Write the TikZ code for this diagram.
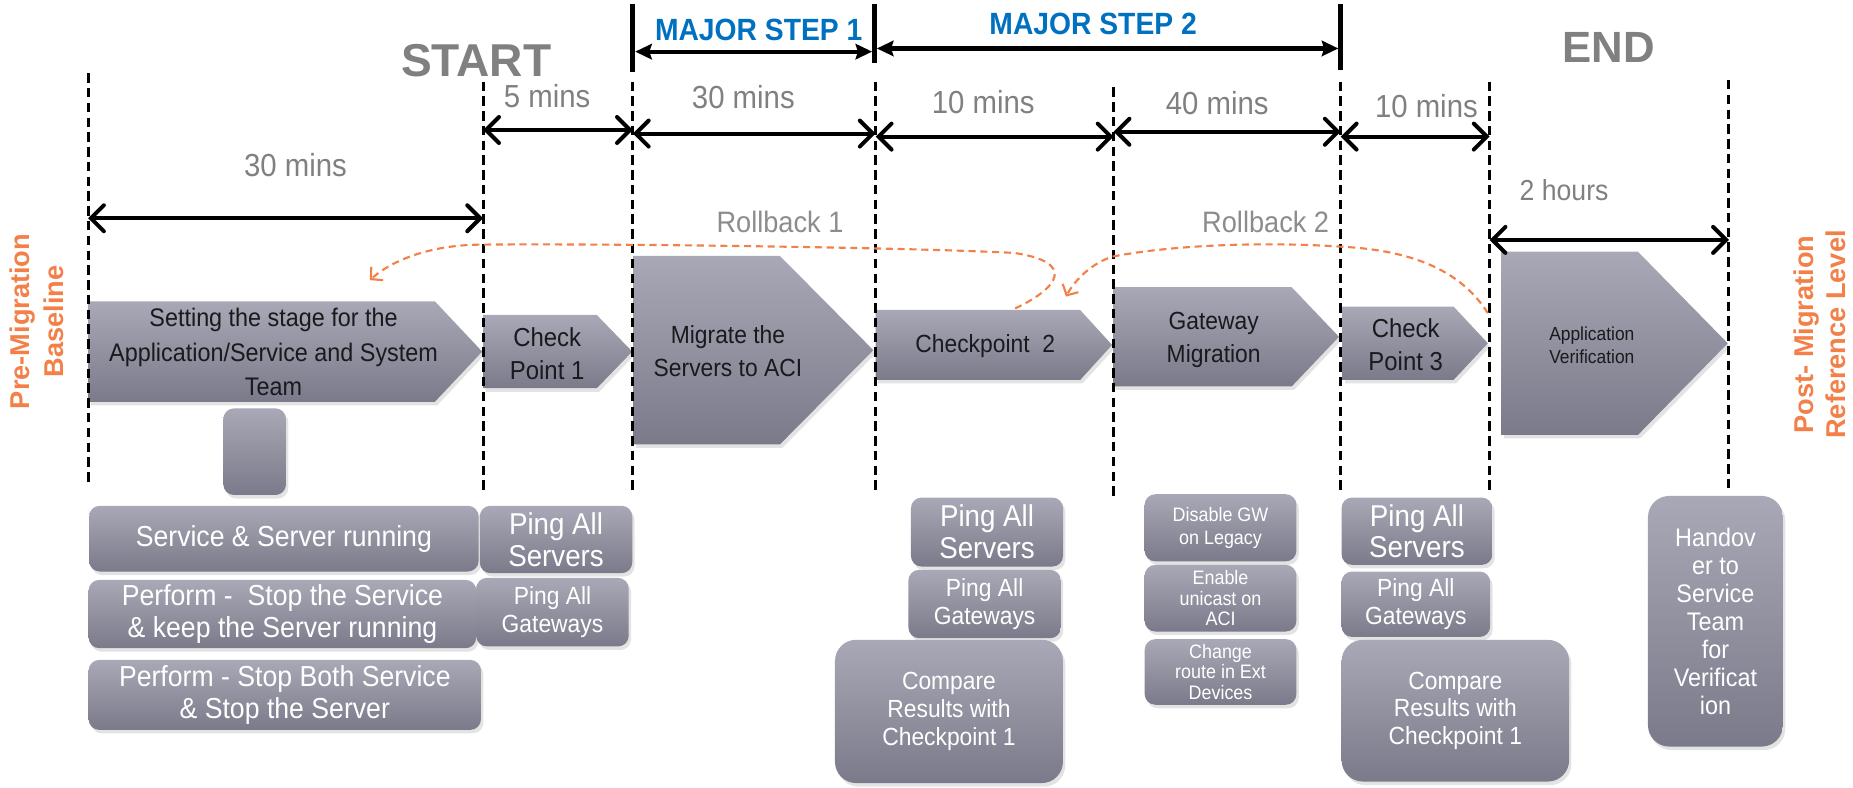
\documentclass[tikz,border=0pt]{standalone}
\usepackage{fontspec}
\setmainfont{Liberation Sans}
\newfontfamily\cnd{Liberation Sans}[FakeStretch=0.92]
\usetikzlibrary{arrows.meta,shadows}
\definecolor{chtop}{RGB}{168,168,182}
\definecolor{chbot}{RGB}{122,122,138}
\definecolor{chtext}{RGB}{25,25,30}
\definecolor{orng}{RGB}{242,128,72}
\definecolor{stepblue}{RGB}{0,112,192}
\definecolor{durgray}{RGB}{128,128,128}
\definecolor{rbgray}{RGB}{140,140,140}
\newcommand\fs[2]{\fontsize{#1}{#2}\selectfont}
\newcommand\chev[5]{\path[chevfill] (#1,#2) -- ({#3-#5},#2) -- (#3,{(#2+#4)/2}) -- ({#3-#5},#4) -- (#1,#4) -- cycle;}
\begin{document}
\begin{tikzpicture}[x=1pt,y=-1pt,
  chevfill/.style={top color=chtop,bottom color=chbot,draw=none,drop shadow={shadow xshift=2pt,shadow yshift=-3pt,opacity=0.22}},
  bx/.style={rectangle,rounded corners=9pt,top color=chtop,bottom color=chbot,draw=none,inner sep=0pt,text=white,align=center,drop shadow={shadow xshift=2pt,shadow yshift=-3pt,opacity=0.22}},
  bigbx/.style={bx,rounded corners=18pt},
  chtxt/.style={inner sep=0pt,align=center,text=chtext},
  vdash/.style={line width=2.6pt,dash pattern=on 8pt off 4.5pt},
  solidbar/.style={line width=4pt},
  dur/.style={line width=3.4pt,line cap=round,{Straight Barb[length=11pt,width=22pt,line cap=round]}-{Straight Barb[length=11pt,width=22pt,line cap=round]}},
  steparr/.style={line width=3.6pt,{Stealth[length=14pt,width=13pt,inset=2pt]}-{Stealth[length=14pt,width=13pt,inset=2pt]}},
  durtxt/.style={inner sep=0pt,text=durgray,font=\cnd\fs{27}{30}},
  rbtxt/.style={inner sep=0pt,text=rbgray,font=\cnd\fs{25}{28}},
  rb/.style={orng,line width=1.8pt,dash pattern=on 6pt off 4pt,-{Straight Barb[length=7pt,width=15pt]}},
  side/.style={inner sep=0pt,rotate=90,align=center,text=orng,font=\bfseries\fs{23}{28.5}}
]
\useasboundingbox (0,0) rectangle (1568,666);

% ---------- chevrons ----------
\chev{75}{255}{408}{340}{40}
\chev{409}{266.5}{535}{328.5}{30}
\chev{536}{216.6}{739}{376}{79}
\chev{741}{262.3}{941}{321.5}{27}
\chev{942}{243}{1133}{327}{40}
\chev{1136}{259.4}{1259}{321.5}{29}
\chev{1270.5}{213}{1462}{368}{76}

\node[chtxt,font=\cnd\fs{21.5}{29}] (t1) at (231.5,298) {Setting the stage for the\\Application/Service and System\\Team};
\node[chtxt,font=\cnd\fs{22}{28}] (t2) at (463,299) {Check\\Point 1};
\node[chtxt,font=\cnd\fs{21}{28}] (t3) at (616,297.5) {Migrate the\\Servers to ACI};
\node[chtxt,font=\cnd\fs{21}{28}] (t4) at (833.7,293) {Checkpoint\ \ 2};
\node[chtxt,font=\cnd\fs{21}{28}] (t5) at (1027,287.6) {Gateway\\Migration};
\node[chtxt,font=\cnd\fs{22}{28}] (t6) at (1189.5,292) {Check\\Point 3};
\node[chtxt,font=\cnd\fs{16}{20}] (t7) at (1347,292) {Application\\Verification};

% ---------- boxes ----------
\node[bx,minimum width=53pt,minimum height=73.3pt] (emp) at (215.5,382.2) {};
\node[bx,minimum width=329.6pt,minimum height=55.6pt,font=\cnd\fs{24.5}{27}] (b1) at (240.2,455.8) {Service \& Server running};
\node[bx,minimum width=328pt,minimum height=57.8pt,font=\cnd\fs{24.5}{27}] (b2) at (239,519.6) {Perform -\ \ Stop the Service\\\& keep the Server running};
\node[bx,minimum width=332pt,minimum height=59.2pt,font=\cnd\fs{24.5}{27}] (b3) at (241,588) {Perform - Stop Both Service\\\& Stop the Server};

\node[bx,minimum width=129pt,minimum height=57pt,font=\cnd\fs{25.5}{27}] (c1a) at (470.5,456.5) {Ping All\\Servers};
\node[bx,minimum width=129pt,minimum height=58pt,font=\cnd\fs{21}{23.7}] (c1b) at (467.5,518) {Ping All\\Gateways};

\node[bx,minimum width=128.7pt,minimum height=58.4pt,font=\cnd\fs{25.5}{27}] (c2a) at (835.2,450.2) {Ping All\\Servers};
\node[bx,minimum width=129pt,minimum height=57.8pt,font=\cnd\fs{21}{23.7}] (c2b) at (833.2,511.1) {Ping All\\Gateways};
\node[bigbx,minimum width=192.9pt,minimum height=121.3pt,font=\cnd\fs{21}{23.5}] (c2c) at (803,602) {Compare\\Results with\\Checkpoint 1};

\node[bx,minimum width=128.4pt,minimum height=56.8pt,font=\cnd\fs{16.5}{19}] (g1) at (1032.8,446.6) {Disable GW\\on Legacy};
\node[bx,minimum width=128.4pt,minimum height=56.4pt,font=\cnd\fs{16.5}{17.6}] (g2) at (1032.8,506.2) {Enable\\unicast on\\ACI};
\node[bx,minimum width=128.4pt,minimum height=55.5pt,font=\cnd\fs{16.5}{17.6}] (g3) at (1032.8,568.6) {Change\\route in Ext\\Devices};

\node[bx,minimum width=127.6pt,minimum height=57pt,font=\cnd\fs{25.5}{27}] (c3a) at (1199,449.5) {Ping All\\Servers};
\node[bx,minimum width=125.8pt,minimum height=55.4pt,font=\cnd\fs{21}{23.7}] (c3b) at (1198.1,511.3) {Ping All\\Gateways};
\node[bigbx,minimum width=192.5pt,minimum height=119.9pt,font=\cnd\fs{21}{23.5}] (c3c) at (1231.5,601.4) {Compare\\Results with\\Checkpoint 1};

\node[bigbx,minimum width=114.2pt,minimum height=212.1pt,font=\cnd\fs{21.5}{23.7}] (hand) at (1451.6,525.7) {Handov\\er to\\Service\\Team\\for\\Verificat\\ion};

% ---------- dashed verticals ----------
\coordinate (d0t) at (74.5,62);    \coordinate (d0b) at (74.5,410.3);
\coordinate (d1t) at (408.8,69);   \coordinate (d1b) at (408.8,418.8);
\coordinate (d2t) at (535.5,69);   \coordinate (d2b) at (535.5,417);
\coordinate (d3t) at (741,69);     \coordinate (d3b) at (741,417.4);
\coordinate (d4t) at (942.3,74);   \coordinate (d4b) at (942.3,421.6);
\coordinate (d5t) at (1134.5,69);  \coordinate (d5b) at (1134.5,417);
\coordinate (d6t) at (1260.5,69);  \coordinate (d6b) at (1260.5,416);
\coordinate (d7t) at (1463,67.7);  \coordinate (d7b) at (1463,414.6);
\foreach \i in {0,...,7} {\draw[vdash] (d\i t) -- (d\i b);}

% ---------- major step bars ----------
\coordinate (m1t) at (535.5,3);  \coordinate (m1b) at (535.5,61);
\coordinate (m2t) at (740,3);    \coordinate (m2b) at (740,53.6);
\coordinate (m3t) at (1134.5,3); \coordinate (m3b) at (1134.5,59);
\draw[solidbar] (m1t) -- (m1b);
\draw[solidbar] (m2t) -- (m2b);
\draw[solidbar] (m3t) -- (m3b);
\coordinate (s1l) at (537.5,43.7); \coordinate (s1r) at (738,43.7);
\coordinate (s2l) at (742,41);     \coordinate (s2r) at (1132.5,41);
\draw[steparr] (s1l) -- (s1r);
\draw[steparr] (s2l) -- (s2r);
\node[inner sep=0pt,text=stepblue,font=\cnd\bfseries\fs{26}{28}] (ms1) at (642,25) {MAJOR STEP 1};
\node[inner sep=0pt,text=stepblue,font=\cnd\bfseries\fs{26}{28}] (ms2) at (925,20) {MAJOR STEP 2};

\node[inner sep=0pt,text=durgray,font=\bfseries\fs{39}{42}] (start) at (403,51) {START};
\node[inner sep=0pt,text=durgray,font=\bfseries\fs{37}{40}] (end) at (1361.5,40) {END};

% ---------- duration arrows ----------
\coordinate (a0l) at (74.5,184.7);  \coordinate (a0r) at (408.8,184.7);
\coordinate (a1l) at (408.8,110);   \coordinate (a1r) at (535.5,110);
\coordinate (a2l) at (535.5,113);   \coordinate (a2r) at (741,113);
\coordinate (a3l) at (741,115.6);   \coordinate (a3r) at (942.3,115.6);
\coordinate (a4l) at (942.3,111.5); \coordinate (a4r) at (1134.5,111.5);
\coordinate (a5l) at (1134.5,115.6);\coordinate (a5r) at (1260.5,115.6);
\coordinate (a6l) at (1260.5,203);  \coordinate (a6r) at (1463,203);
\foreach \i in {0,...,6} {\draw[dur] (a\i l) -- (a\i r);}

\node[durtxt] (l0) at (250,140) {30 mins};
\node[durtxt] (l1) at (463,81) {5 mins};
\node[durtxt] (l2) at (629,82) {30 mins};
\node[durtxt] (l3) at (832,86) {10 mins};
\node[durtxt] (l4) at (1030,87) {40 mins};
\node[durtxt] (l5) at (1207,90) {10 mins};
\node[durtxt,font=\cnd\fs{24.5}{28}] (l6) at (1323.5,160.5) {2 hours};

\node[rbtxt] (rb1) at (660,187.5) {Rollback 1};
\node[rbtxt] (rb2) at (1071,187.5) {Rollback 2};

% ---------- rollback curves ----------
\coordinate (r1s) at (859,261);
\coordinate (r1k) at (858,214);
\coordinate (r1m) at (408,207);
\coordinate (r1e) at (313,237);
\draw[rb] (r1s) .. controls (895,244) and (912,222) .. (r1k)
  .. controls (760,209) and (500,206) .. (r1m)
  .. controls (365,207) and (332,220) .. (r1e);
\coordinate (r2s) at (1259,265);
\coordinate (r2k) at (1134,208.7);
\coordinate (r2m) at (942,217);
\coordinate (r2e) at (902,251);
\draw[rb] (r2s) .. controls (1240,235) and (1205,212) .. (r2k)
  .. controls (1080,205) and (1000,206) .. (r2m)
  .. controls (925,222) and (910,236) .. (r2e);

% ---------- side labels ----------
\node[side] (pre) at (31,272) {Pre-Migration\\Baseline};
\node[side,font=\bfseries\fs{23}{27}] (post) at (1540,283) {Post- Migration\\Reference Level};
\end{tikzpicture}
\end{document}
